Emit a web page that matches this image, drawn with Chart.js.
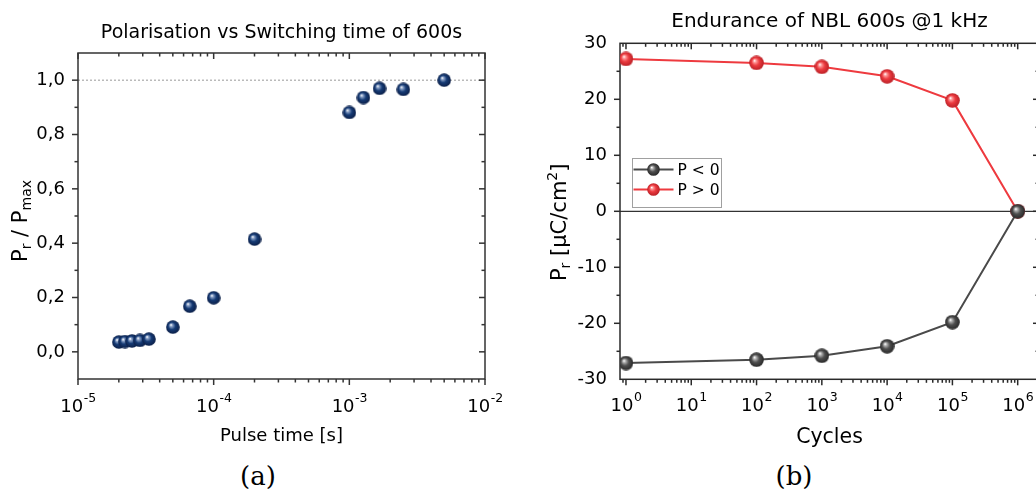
<!DOCTYPE html>
<html>
<head>
<meta charset="utf-8">
<script src="https://cdn.jsdelivr.net/npm/chart.js@4.4.1/dist/chart.umd.min.js"></script>
<style>
  body { margin:0; width:1036px; height:496px; overflow:hidden; background:#fff; position:relative; }
  .panel { position:absolute; top:0; }
  .cap { position:absolute; top:461px; width:100px; text-align:center; line-height:30px;
         font-family:"DejaVu Serif", serif; font-size:26px; color:#000; }
</style>
</head>
<body>
<div class="panel" style="left:0"><canvas id="chartA" width="530" height="455"></canvas></div>
<div class="panel" style="left:540px"><canvas id="chartB" width="510" height="455"></canvas></div>
<div class="cap" style="left:208px">(a)</div>
<div class="cap" style="left:744px">(b)</div>

<script>
/* =========================
   DATA
========================= */
// (a) normalised polarisation vs pulse time
const pulseTimes = [2.0e-5, 2.22e-5, 2.5e-5, 2.86e-5, 3.33e-5, 5.0e-5, 6.67e-5, 1.0e-4, 2.0e-4, 1.0e-3, 1.27e-3, 1.67e-3, 2.5e-3, 5.0e-3];
const polNorm    = [0.036, 0.038, 0.040, 0.042, 0.047, 0.091, 0.168, 0.199, 0.415, 0.881, 0.936, 0.970, 0.966, 1.0];
const pulseTicks = [1e-5, 1e-4, 1e-3, 1e-2];
const polTicks   = [0, 0.2, 0.4, 0.6, 0.8, 1.0];

// (b) endurance
const cycles     = [1, 1e2, 1e3, 1e4, 1e5, 1e6];
const prNeg      = [-27.1, -26.5, -25.8, -24.1, -19.8, 0];
const prPos      = [27.2, 26.5, 25.8, 24.1, 19.8, 0];
const cycleTicks = [1, 1e1, 1e2, 1e3, 1e4, 1e5, 1e6];
const prTicks    = [-30, -20, -10, 0, 10, 20, 30];

const FONT = '"DejaVu Sans", sans-serif';

/* =========================
   SHADED BALL MARKERS
========================= */
function ball(d, light, base, dark) {
  const c = document.createElement("canvas");
  c.width = c.height = d;
  const g = c.getContext("2d");
  const r = d / 2;
  const grad = g.createRadialGradient(r * 0.72, r * 0.68, r * 0.04, r, r, r);
  grad.addColorStop(0, "#ffffff");
  grad.addColorStop(0.16, light);
  grad.addColorStop(0.5, base);
  grad.addColorStop(1, dark);
  g.fillStyle = grad;
  g.beginPath();
  g.arc(r, r, r - 0.2, 0, Math.PI * 2);
  g.fill();
  return c;
}

const navyBall  = ball(14, "#8da3c8", "#163b75", "#0a1d45");
const redBall   = ball(15, "#ff9d9d", "#ec3b40", "#b81e24");
const greyBall  = ball(15, "#b5b5b5", "#4f4f4f", "#262626");
const redSmall  = ball(13, "#ff9d9d", "#ec3b40", "#b81e24");
const greySmall = ball(13, "#b5b5b5", "#4f4f4f", "#262626");

/* =========================
   PLUGINS (config kept in closures)
========================= */
function logSteps(min, max) {
  const out = [];
  for (let e = Math.floor(Math.log10(min)); e <= Math.ceil(Math.log10(max)); e++) {
    for (let k = 1; k <= 9; k++) {
      const v = k * Math.pow(10, e);
      if (v >= min * 0.999 && v <= max * 1.001) out.push({ v, major: k === 1 });
    }
  }
  return out;
}

function seg(ctx, x1, y1, x2, y2) {
  ctx.beginPath();
  ctx.moveTo(x1, y1);
  ctx.lineTo(x2, y2);
  ctx.stroke();
}

// box frame, ticks (out on left/bottom, in on right/top) and guide lines
function framePlugin(cfg) {
  return {
    id: "frame",
    beforeDatasetsDraw(chart) {
      const { ctx, chartArea: a, scales: { x, y } } = chart;
      ctx.save();

      cfg.hLines.forEach(h => {
        const py = y.getPixelForValue(h.value);
        ctx.strokeStyle = h.color;
        ctx.lineWidth = h.width;
        ctx.setLineDash(h.dash || []);
        seg(ctx, a.left, py, a.right, py);
      });
      ctx.setLineDash([]);

      ctx.strokeStyle = cfg.color;
      ctx.lineWidth = cfg.width;
      ctx.strokeRect(a.left, a.top, a.right - a.left, a.bottom - a.top);

      logSteps(x.min, x.max).forEach(t => {
        const px = x.getPixelForValue(t.v);
        const len = t.major ? 6 : 3.5;
        seg(ctx, px, a.bottom, px, a.bottom + len);
        seg(ctx, px, a.top, px, a.top + len);
      });

      const n = Math.round((y.max - y.min) / cfg.yMinor);
      for (let i = 1; i < n; i++) {
        const v = y.min + i * cfg.yMinor;
        const q = v / cfg.yMajor;
        const len = Math.abs(q - Math.round(q)) < 1e-6 ? 6 : 3.5;
        const py = y.getPixelForValue(v);
        seg(ctx, a.left - len, py, a.left, py);
        seg(ctx, a.right - len, py, a.right, py);
      }
      ctx.restore();
    }
  };
}

// 10^n labels under the log axis
function expPlugin(cfg) {
  return {
    id: "expLabels",
    afterDraw(chart) {
      const { ctx, chartArea: a, scales: { x } } = chart;
      ctx.save();
      ctx.fillStyle = "#000";
      ctx.textAlign = "left";
      ctx.textBaseline = "alphabetic";
      cfg.ticks.forEach(v => {
        const sup = String(Math.round(Math.log10(v)));
        ctx.font = cfg.size + "px " + FONT;
        const w1 = ctx.measureText("10").width;
        ctx.font = cfg.supSize + "px " + FONT;
        const w2 = ctx.measureText(sup).width;
        const left = x.getPixelForValue(v) - (w1 + w2) / 2;
        const base = a.bottom + cfg.offset;
        ctx.font = cfg.size + "px " + FONT;
        ctx.fillText("10", left, base);
        ctx.font = cfg.supSize + "px " + FONT;
        ctx.fillText(sup, left + w1 + 0.5, base - cfg.rise);
      });
      ctx.restore();
    }
  };
}

// rotated y axis title with sub/superscripts
function yTitlePlugin(cfg) {
  return {
    id: "yTitle",
    afterDraw(chart) {
      const { ctx, chartArea: a } = chart;
      ctx.save();
      ctx.fillStyle = "#000";
      ctx.textBaseline = "alphabetic";
      ctx.textAlign = "left";
      const widths = cfg.parts.map(p => {
        ctx.font = p.size + "px " + FONT;
        return ctx.measureText(p.t).width;
      });
      const total = widths.reduce((s, w) => s + w, 0);
      ctx.translate(cfg.x, (a.top + a.bottom) / 2 + cfg.dy);
      ctx.rotate(-Math.PI / 2);
      let cx = -total / 2;
      cfg.parts.forEach((p, i) => {
        ctx.font = p.size + "px " + FONT;
        ctx.fillText(p.t, cx, p.shift || 0);
        cx += widths[i];
      });
      ctx.restore();
    }
  };
}

// boxed legend inside the plot
function boxLegendPlugin(cfg) {
  return {
    id: "boxLegend",
    afterDatasetsDraw(chart) {
      const { ctx } = chart;
      const [bx, by, bw, bh] = cfg.box;
      ctx.save();
      ctx.fillStyle = "#fff";
      ctx.fillRect(bx, by, bw, bh);
      ctx.strokeStyle = "#a0a0a0";
      ctx.lineWidth = 1;
      ctx.strokeRect(bx, by, bw, bh);
      ctx.font = cfg.size + "px " + FONT;
      ctx.textBaseline = "middle";
      ctx.textAlign = "left";
      chart.data.datasets.forEach((ds, i) => {
        const ly = by + cfg.first + i * cfg.step;
        ctx.strokeStyle = ds.borderColor;
        ctx.lineWidth = ds.borderWidth;
        seg(ctx, bx + 1, ly, bx + 41, ly);
        const img = cfg.markers[i];
        ctx.drawImage(img, bx + 21 - img.width / 2, ly - img.height / 2);
        ctx.fillStyle = "#000";
        ctx.fillText(ds.label, bx + 45, ly + 1);
      });
      ctx.restore();
    }
  };
}

const tickFont = { family: FONT, size: 18 };

/* =========================
   (a) POLARISATION VS PULSE TIME
========================= */
new Chart(document.getElementById("chartA"), {
  type: "scatter",
  data: {
    datasets: [{
      label: "Pr/Pmax",
      data: pulseTimes.map((t, i) => ({ x: t, y: polNorm[i] })),
      pointStyle: navyBall,
      pointRadius: 7
    }]
  },
  options: {
    responsive: false,
    animation: false,
    devicePixelRatio: 1,
    layout: { padding: { left: 0, right: 45, top: 0, bottom: 0 } },
    plugins: {
      legend: { display: false },
      tooltip: { enabled: false },
      title: {
        display: true, fullSize: false,
        text: "Polarisation vs Switching time of 600s",
        color: "#000",
        font: { family: FONT, size: 19, weight: "normal" },
        padding: { top: 21.3, bottom: 8.9 }
      }
    },
    scales: {
      x: {
        type: "logarithmic", min: 1e-5, max: 1e-2,
        grid: { display: false }, border: { display: false },
        ticks: { display: false },
        title: {
          display: true, text: "Pulse time [s]", color: "#000",
          font: { family: FONT, size: 18 }, padding: { top: 0, bottom: 8 }
        },
        afterFit: s => { s.height = 455 - 379; }
      },
      y: {
        min: -0.1, max: 1.1,
        grid: { display: false, drawTicks: false }, border: { display: false },
        afterBuildTicks: s => { s.ticks = polTicks.map(v => ({ value: v })); },
        ticks: {
          color: "#000", font: tickFont, padding: 13,
          callback: v => v.toFixed(1).replace(".", ",")
        },
        afterFit: s => { s.width = 78; }
      }
    }
  },
  plugins: [
    framePlugin({
      color: "#333", width: 1.5, yMinor: 0.1, yMajor: 0.2,
      hLines: [{ value: 1.0, color: "#999", width: 1, dash: [2, 2] }]
    }),
    expPlugin({ ticks: pulseTicks, size: 18, supSize: 12.5, offset: 32.5, rise: 10 }),
    yTitlePlugin({
      x: 26.5, dy: 5,
      parts: [
        { t: "P", size: 21 }, { t: "r", size: 14, shift: 4.5 },
        { t: " / P", size: 21 }, { t: "max", size: 14, shift: 4.5 }
      ]
    })
  ]
});

/* =========================
   (b) ENDURANCE
========================= */
new Chart(document.getElementById("chartB"), {
  type: "scatter",
  data: {
    datasets: [
      {
        label: "P < 0",
        data: cycles.map((c, i) => ({ x: c, y: prNeg[i] })),
        showLine: true, borderColor: "#4a4a4a", borderWidth: 2,
        pointStyle: greyBall, pointRadius: 7.5
      },
      {
        label: "P > 0",
        data: cycles.map((c, i) => ({ x: c, y: prPos[i] })),
        showLine: true, borderColor: "#ee3a3f", borderWidth: 2,
        pointStyle: redBall, pointRadius: 7.5
      }
    ]
  },
  options: {
    responsive: false,
    animation: false,
    devicePixelRatio: 1,
    layout: { padding: { left: 0, right: 11, top: 0, bottom: 0 } },
    plugins: {
      legend: { display: false },
      tooltip: { enabled: false },
      title: {
        display: true, fullSize: false,
        text: "Endurance of NBL 600s @1 kHz",
        color: "#000",
        font: { family: FONT, size: 20, weight: "normal" },
        padding: { top: 9.4, bottom: 9.9 }
      }
    },
    scales: {
      x: {
        type: "logarithmic", min: 0.81, max: 2.12e6,
        grid: { display: false }, border: { display: false },
        ticks: { display: false },
        title: {
          display: true, text: "Cycles", color: "#000",
          font: { family: FONT, size: 20.5 }, padding: { top: 0, bottom: 5.5 }
        },
        afterFit: s => { s.height = 455 - 379.3; }
      },
      y: {
        min: -30, max: 30,
        grid: { display: false, drawTicks: false }, border: { display: false },
        afterBuildTicks: s => { s.ticks = prTicks.map(v => ({ value: v })); },
        ticks: { color: "#000", font: tickFont, padding: 13, callback: v => String(v) },
        afterFit: s => { s.width = 80; }
      }
    }
  },
  plugins: [
    framePlugin({
      color: "#2a2a2a", width: 1.5, yMinor: 5, yMajor: 10,
      hLines: [{ value: 0, color: "#000", width: 1 }]
    }),
    expPlugin({ ticks: cycleTicks, size: 18, supSize: 12.5, offset: 31.5, rise: 10 }),
    yTitlePlugin({
      x: 25.5, dy: 11,
      parts: [
        { t: "P", size: 21 }, { t: "r", size: 14, shift: 4.5 },
        { t: " [µC/cm", size: 21 }, { t: "2", size: 14, shift: -9 },
        { t: "]", size: 21 }
      ]
    }),
    boxLegendPlugin({ box: [92.5, 158.5, 89, 49], first: 11, step: 20, size: 15.5, markers: [greySmall, redSmall] })
  ]
});
</script>
</body>
</html>
